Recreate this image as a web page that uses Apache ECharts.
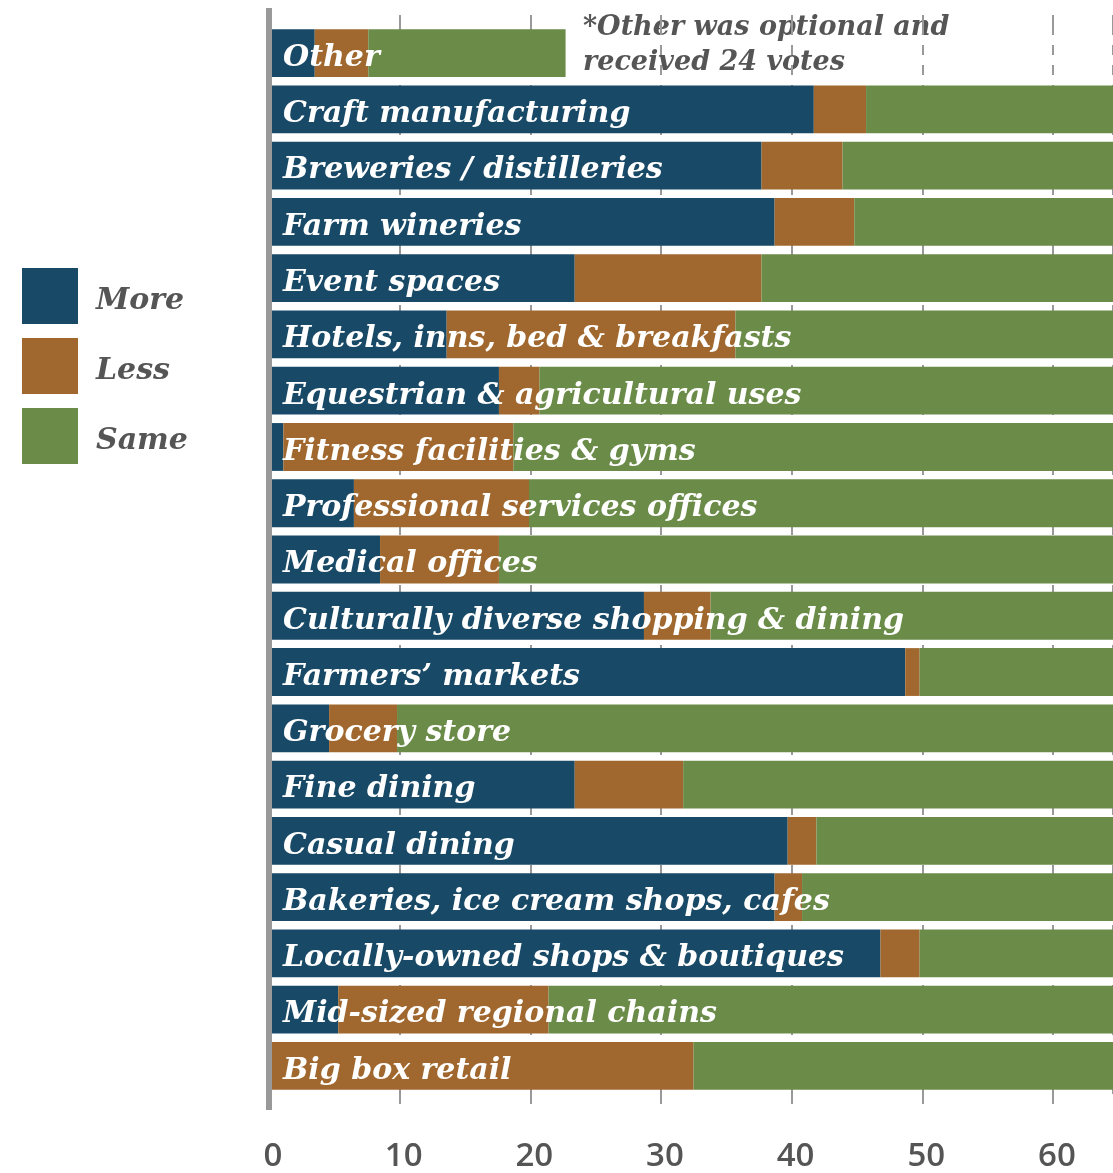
<!DOCTYPE html>
<html><head><meta charset="utf-8">
<script src="https://cdn.jsdelivr.net/npm/echarts@6/dist/echarts.min.js"></script>
<style>html,body{margin:0;padding:0;background:#fff}#c{width:1113px;height:1173px}</style>
</head><body><div id="c"></div>
<script>
const categories = ["Other","Craft manufacturing","Breweries / distilleries","Farm wineries","Event spaces","Hotels, inns, bed & breakfasts","Equestrian & agricultural uses","Fitness facilities & gyms","Professional services offices","Medical offices","Culturally diverse shopping & dining","Farmers\u2019 markets","Grocery store","Fine dining","Casual dining","Bakeries, ice cream shops, cafes","Locally-owned shops & boutiques","Mid-sized regional chains","Big box retail"];
const moreVals = [3.5,41.7,37.7,38.7,23.4,13.6,17.6,1.1,6.5,8.5,28.7,48.7,4.6,23.4,39.7,38.7,46.8,5.3,0];
const lessVals = [4.1,4.0,6.2,6.1,14.3,22.1,3.1,17.6,13.4,9.1,5.1,1.1,5.2,8.3,2.2,2.1,3.0,16.1,32.5];
const sameVals = [15.1,34,36,35,42,44,59,61,60,62,46,30,70,48,38,39,30,58,47];
const seriesNames = ["More","Less","Same"];
const xTicks = [0,10,20,30,40,50,60];
const note = "*Other was optional and\nreceived 24 votes";

const colors = ["#184966","#a0682e","#6b8b49"];
const serif = "'DejaVu Serif', serif";
const chart = echarts.init(document.getElementById('c'));
const mk = (name, data, i) => ({
  name, type: 'bar', stack: 's', data, barCategoryGap: '15%',
  itemStyle: {color: colors[i]}, emphasis: {disabled: true}
});
chart.setOption({
  animation: false,
  grid: {left: 269, right: 0, top: 25, bottom: 77, containLabel: false},
  legend: {
    orient: 'vertical', left: 22, top: 268, padding: 0, itemWidth: 56, itemHeight: 56, itemGap: 14,
    icon: 'rect', data: seriesNames,
    formatter: n => '{t|' + n + '}',
    textStyle: {rich: {t: {fontFamily: serif, fontStyle: 'italic', fontWeight: 'bold', fontSize: 30, color: '#555', padding: [10,0,0,13]}}}
  },
  xAxis: [{
    type: 'value', min: 0, max: 64.6, interval: 10, position: 'bottom',
    axisLine: {show: false},
    axisTick: {show: true, length: 15, lineStyle: {color: '#999', width: 2, type: [10,8]}},
    splitLine: {show: true, lineStyle: {color: '#999', width: 2, type: [10,10]}},
    axisLabel: {margin: 46, fontSize: 33, fontWeight: 600, color: '#555', fontFamily: "'Open Sans', sans-serif", showMaxLabel: false,
      padding: [0,0,0,8],
      formatter: v => xTicks.includes(v) ? String(v) : ''}
  },{
    type: 'value', min: 0, max: 64.6, interval: 10, position: 'top',
    axisLine: {show: false}, axisLabel: {show: false}, splitLine: {show: false},
    axisTick: {show: true, length: 17, lineStyle: {color: '#999', width: 2, type: [10,8]}}
  }],
  yAxis: {
    type: 'category', data: categories, inverse: true, z: 10,
    axisLine: {show: true, lineStyle: {color: '#999', width: 6}},
    axisTick: {show: false},
    axisLabel: {inside: true, margin: 14, formatter: v => '{t|' + v + '}',
      rich: {t: {color: '#fff', fontFamily: serif, fontStyle: 'italic', fontWeight: 'bold', fontSize: 30, padding: [10,0,0,0]}}}
  },
  graphic: [
    {type: 'rect', shape: {x: 266, y: 8, width: 6, height: 1102}, style: {fill: '#999'}, z: 100},
    {type: 'text', left: 583, top: 10, style: {text: note, fill: '#555', font: "italic bold 27px 'DejaVu Serif', serif", lineHeight: 35}}
  ],
  series: [mk(seriesNames[0], moreVals, 0), mk(seriesNames[1], lessVals, 1), mk(seriesNames[2], sameVals, 2)]
});
</script></body></html>
